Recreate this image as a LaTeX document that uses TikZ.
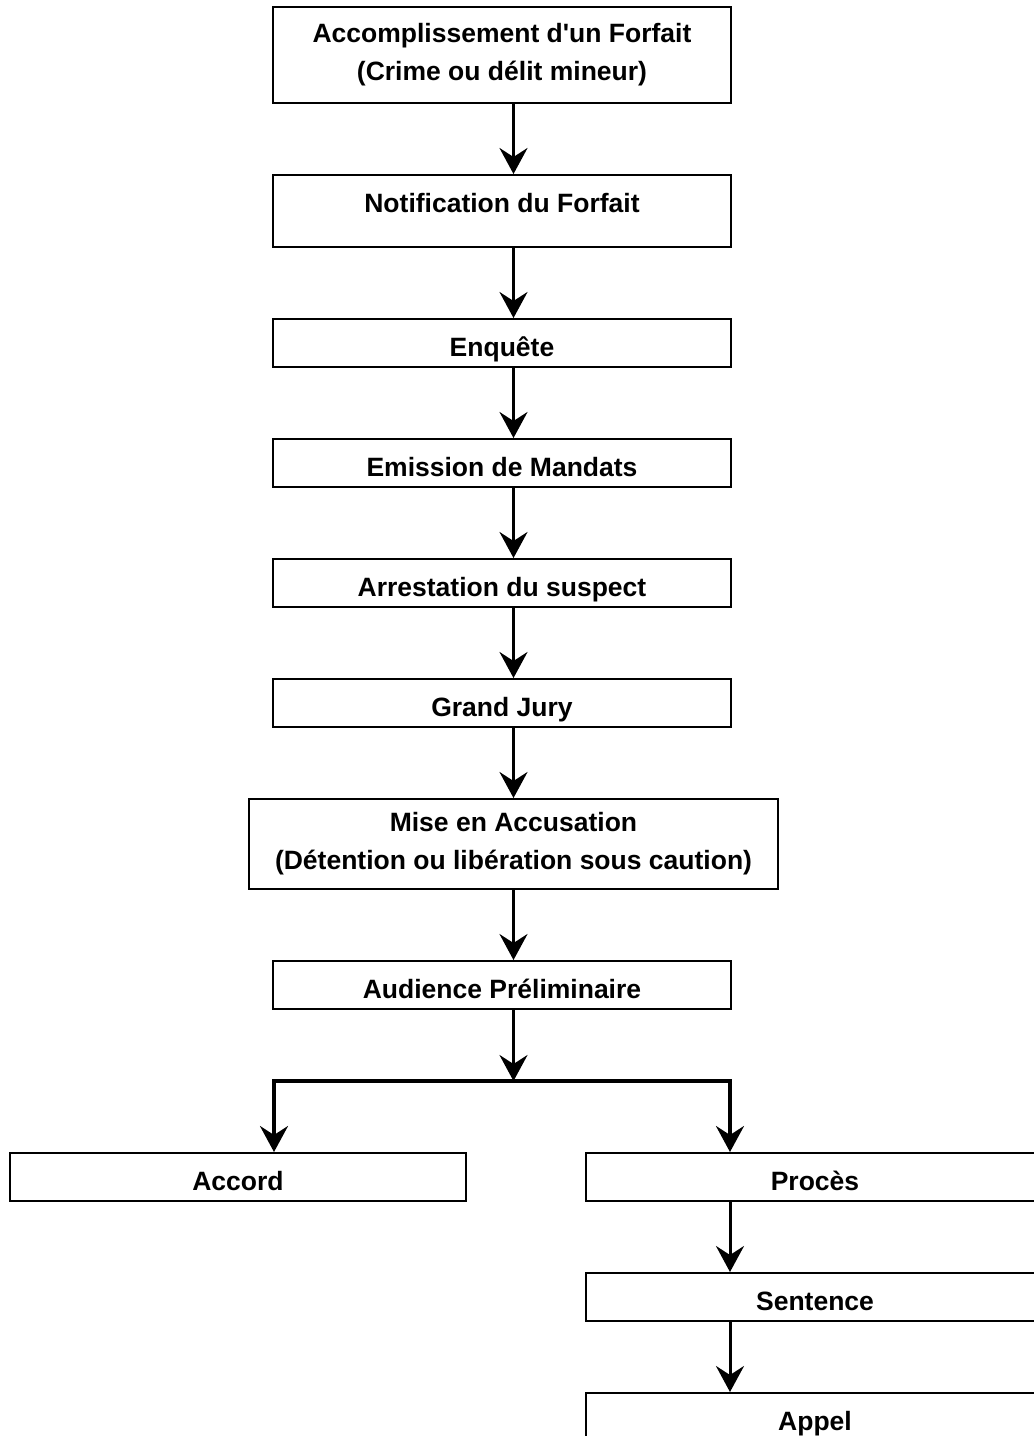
\documentclass[tikz,border=0pt]{standalone}
\usepackage{fontspec}
\newfontfamily\boxfont{Liberation Sans}
\usetikzlibrary{arrows.meta}

\begin{document}
\begin{tikzpicture}[x=0.5pt,y=-0.5pt,
    etape/.style={draw, line width=1pt, minimum width=229pt, inner sep=0pt, align=center,
      font=\boxfont\bfseries\fontsize{13.25pt}{19pt}\selectfont},
    bas/.style={minimum height=24pt, text height=13pt, text depth=0pt},
    fleche/.style={-{Stealth[length=13pt,width=14pt,inset=4.5pt]}, line width=1.5pt}]
    \path[use as bounding box, clip] (0,0) rectangle (1034,1436);

    \node[etape, minimum height=48pt] (forfait) at (502,55) {Accomplissement d'un Forfait\\(Crime ou délit mineur)};
    \node[etape, minimum height=36pt, text height=1pt, text depth=0pt] (notif) at (502,211) {Notification du Forfait};
    \node[etape, bas] (enquete) at (502,343) {Enquête};
    \node[etape, bas] (mandats) at (502,463) {Emission de Mandats};
    \node[etape, bas] (arrest) at (502,583) {Arrestation du suspect};
    \node[etape, bas] (jury) at (502,703) {Grand Jury};
    \node[etape, minimum width=264.5pt, minimum height=45pt] (accus) at (513.5,844) {Mise en Accusation\\(Détention ou libération sous caution)};
    \node[etape, bas] (audience) at (502,985) {Audience Préliminaire};
    \node[etape, bas, minimum width=228pt] (accord) at (238,1177) {Accord};
    \node[etape, bas] (proces) at (815,1177) {Procès};
    \node[etape, bas] (sentence) at (815,1297) {Sentence};
    \node[etape, bas] (appel) at (815,1417) {Appel};

    \coordinate (fourche) at (513.5,1081);
    \coordinate (gauche) at (274,1081);
    \coordinate (droite) at (730,1081);

    \foreach \a/\b in {forfait/notif, notif/enquete, enquete/mandats, mandats/arrest, arrest/jury, jury/accus, accus/audience}
        \draw[fleche] (\a.south -| accus) -- (\b.north -| accus);
    \draw[fleche] (audience.south -| accus) -- (fourche);
    \draw[fleche, line width=1.75pt] (fourche) -| (gauche |- accord.north);
    \draw[fleche, line width=1.75pt] (fourche) -| (droite |- proces.north);
    \draw[fleche] (proces.south -| droite) -- (sentence.north -| droite);
    \draw[fleche] (sentence.south -| droite) -- (appel.north -| droite);
\end{tikzpicture}
\end{document}
